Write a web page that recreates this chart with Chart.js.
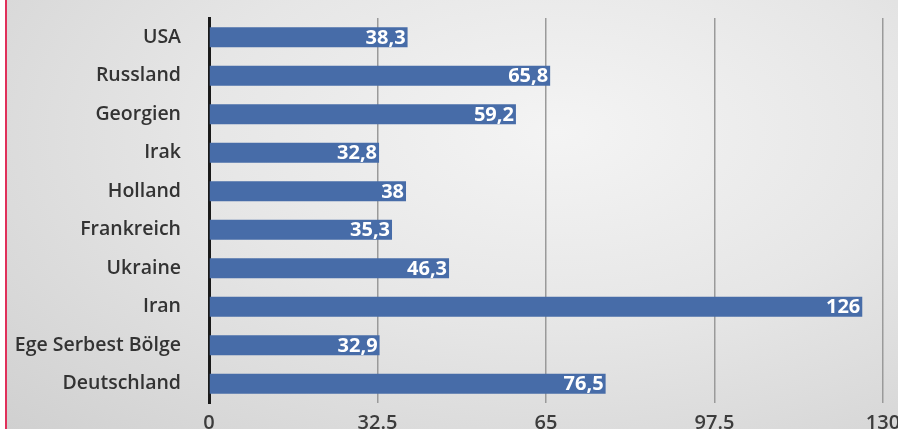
<!DOCTYPE html>
<html>
<head>
<meta charset="utf-8">
<script src="https://cdn.jsdelivr.net/npm/chart.js@4/dist/chart.umd.min.js"></script>
<style>
  html, body { margin: 0; padding: 0; overflow: hidden; background: #fff; }
  #wrap {
    position: relative;
    width: 898px; height: 440px;
    background: radial-gradient(ellipse at 62% 30%, #f4f4f4 0%, #e6e6e6 45%, #cfcfcf 100%);
  }
  #edge { position: absolute; left: 0; top: 0; width: 5px; height: 100%; background: #fff; border-right: 2px solid #e0305a; }
  canvas { position: absolute; left: 0; top: 0; }
</style>
</head>
<body>
<div id="wrap">
  <div id="edge"></div>
  <canvas id="barChart" width="898" height="440"></canvas>
</div>
<script>
const countries = ["USA", "Russland", "Georgien", "Irak", "Holland", "Frankreich", "Ukraine", "Iran", "Ege Serbest Bölge", "Deutschland"];
const values = [38.3, 65.8, 59.2, 32.8, 38, 35.3, 46.3, 126, 32.9, 76.5];
const xTicks = [0, 32.5, 65, 97.5, 130];

document.addEventListener('DOMContentLoaded', () => {
  const barChart = document.getElementById("barChart");
  const ctx = barChart.getContext("2d");

  // white value labels inside the bar end
  const valueLabels = {
    id: "valueLabels",
    afterDatasetsDraw(chart) {
      const c = chart.ctx;
      const meta = chart.getDatasetMeta(0);
      c.save();
      c.font = "bold 20px 'Open Sans'";
      c.fillStyle = "#ffffff";
      c.textAlign = "right";
      c.textBaseline = "middle";
      meta.data.forEach((bar, i) => {
        const txt = String(values[i]).replace(".", ",");
        c.fillText(txt, bar.x - 2, bar.y + 1);
      });
      c.restore();
    },
  };

  new Chart(ctx, {
    type: "bar",
    data: {
      labels: countries,
      datasets: [
        {
          data: values,
          backgroundColor: "#476ca8",
          barPercentage: 0.52,
          categoryPercentage: 1,
        },
      ],
    },
    options: {
      indexAxis: "y",
      responsive: false,
      animation: false,
      layout: { padding: { top: 18, right: 15, left: 0, bottom: 0 } },
      plugins: {
        legend: { display: false },
        tooltip: { enabled: false },
      },
      scales: {
        x: {
          min: 0,
          max: 130,
          afterBuildTicks: (scale) => {
            scale.ticks = xTicks.map((v) => ({ value: v }));
          },
          afterFit: (scale) => {
            scale.height = 37;
            scale.paddingLeft = 0;
            scale.paddingRight = 0;
          },
          grid: { color: "#9a9a9a", lineWidth: 1.5, drawTicks: false },
          border: { display: false },
          ticks: {
            padding: 8,
            color: "#3c3c3c",
            font: { family: "'Open Sans'", size: 20, weight: "600" },
            callback: (v) => String(v),
          },
        },
        y: {
          afterFit: (scale) => {
            scale.width = 209;
            scale.paddingTop = 0;
            scale.paddingBottom = 0;
          },
          grid: { display: false, drawTicks: false },
          border: { color: "#1a1a1a", width: 3 },
          ticks: {
            padding: 28,
            color: "#333333",
            font: { family: "'Open Sans'", size: 19.5, weight: "600" },
          },
        },
      },
    },
    plugins: [valueLabels],
  });
});
</script>
</body>
</html>
